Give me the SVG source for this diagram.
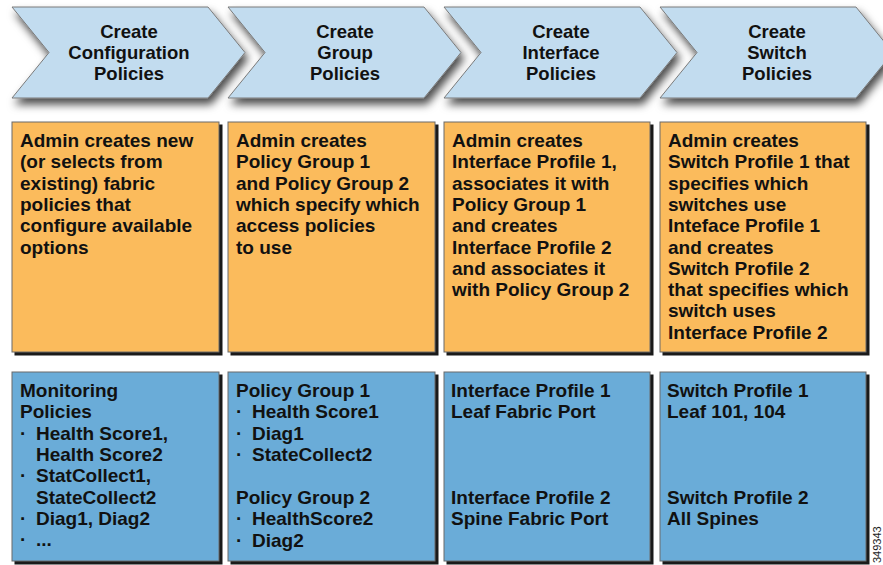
<svg xmlns="http://www.w3.org/2000/svg" width="883" height="565" viewBox="0 0 883 565">
<style>
.chev{fill:#c2dcef;stroke:#7a7a7a;stroke-width:1;filter:url(#sh)}
.hd{font-family:"Liberation Sans",Arial,sans-serif;font-weight:bold;font-size:18.5px;fill:#111;text-anchor:middle}
.tx{font-family:"Liberation Sans",Arial,sans-serif;font-weight:bold;font-size:19px;fill:#111}
.or{fill:#fbbb5c;stroke:#6a6a6a;stroke-width:1}
.bl{fill:#6aacd8;stroke:#6a6a6a;stroke-width:1}
.bs{fill:#1a1a1a}
.id{font-family:"Liberation Sans",Arial,sans-serif;font-size:11px;fill:#222}
</style>
<defs>
<filter id="sh" x="-10%" y="-20%" width="130%" height="160%">
<feDropShadow dx="3" dy="6" stdDeviation="4" flood-color="#000" flood-opacity="0.7"/>
</filter>
<path id="chevShape" d="M0,7 L196,7 L233,52.5 L196,98 L0,98 L37,52.5 Z"/>
</defs>
<rect width="883" height="565" fill="#fff"/>

<g id="step-config">
<use href="#chevShape" class="chev" x="12"/>
<text class="hd" x="129" y="38">Create</text>
<text class="hd" x="129" y="59">Configuration</text>
<text class="hd" x="129" y="80">Policies</text>
</g>
<g id="step-group">
<use href="#chevShape" class="chev" x="228"/>
<text class="hd" x="345" y="38">Create</text>
<text class="hd" x="345" y="59">Group</text>
<text class="hd" x="345" y="80">Policies</text>
</g>
<g id="step-interface">
<use href="#chevShape" class="chev" x="444"/>
<text class="hd" x="561" y="38">Create</text>
<text class="hd" x="561" y="59">Interface</text>
<text class="hd" x="561" y="80">Policies</text>
</g>
<g id="step-switch">
<use href="#chevShape" class="chev" x="660"/>
<text class="hd" x="777" y="38">Create</text>
<text class="hd" x="777" y="59">Switch</text>
<text class="hd" x="777" y="80">Policies</text>
</g>

<g id="desc-config">
<rect class="bs" x="14.5" y="124.5" width="208" height="231"/>
<rect class="or" x="12" y="122" width="207" height="230"/>
<text class="tx"><tspan x="20" y="147">Admin creates new</tspan><tspan x="20" y="168.3">(or selects from</tspan><tspan x="20" y="189.6">existing) fabric</tspan><tspan x="20" y="210.9">policies that</tspan><tspan x="20" y="232.2">configure available</tspan><tspan x="20" y="253.5">options</tspan></text>
</g>
<g id="desc-group">
<rect class="bs" x="230.5" y="124.5" width="208" height="231"/>
<rect class="or" x="228" y="122" width="207" height="230"/>
<text class="tx"><tspan x="236" y="147">Admin creates</tspan><tspan x="236" y="168.3">Policy Group 1</tspan><tspan x="236" y="189.6">and Policy Group 2</tspan><tspan x="236" y="210.9">which specify which</tspan><tspan x="236" y="232.2">access policies</tspan><tspan x="236" y="253.5">to use</tspan></text>
</g>
<g id="desc-interface">
<rect class="bs" x="446.5" y="124.5" width="207" height="231"/>
<rect class="or" x="444" y="122" width="206" height="230"/>
<text class="tx"><tspan x="452" y="147">Admin creates</tspan><tspan x="452" y="168.3">Interface Profile 1,</tspan><tspan x="452" y="189.6">associates it with</tspan><tspan x="452" y="210.9">Policy Group 1</tspan><tspan x="452" y="232.2">and creates</tspan><tspan x="452" y="253.5">Interface Profile 2</tspan><tspan x="452" y="274.8">and associates it</tspan><tspan x="452" y="296.1">with Policy Group 2</tspan></text>
</g>
<g id="desc-switch">
<rect class="bs" x="662.5" y="124.5" width="207" height="231"/>
<rect class="or" x="660" y="122" width="206" height="230"/>
<text class="tx"><tspan x="668" y="147">Admin creates</tspan><tspan x="668" y="168.3">Switch Profile 1 that</tspan><tspan x="668" y="189.6">specifies which</tspan><tspan x="668" y="210.9">switches use</tspan><tspan x="668" y="232.2">Inteface Profile 1</tspan><tspan x="668" y="253.5">and creates</tspan><tspan x="668" y="274.8">Switch Profile 2</tspan><tspan x="668" y="296.1">that specifies which</tspan><tspan x="668" y="317.4">switch uses</tspan><tspan x="668" y="338.7">Interface Profile 2</tspan></text>
</g>

<g id="detail-config">
<rect class="bs" x="14.5" y="374.5" width="208" height="190"/>
<rect class="bl" x="12" y="372" width="207" height="189"/>
<text class="tx"><tspan x="20" y="397">Monitoring</tspan><tspan x="20" y="418.3">Policies</tspan><tspan x="20" y="439.6">·</tspan><tspan x="36" y="439.6">Health Score1,</tspan><tspan x="36" y="460.9">Health Score2</tspan><tspan x="20" y="482.2">·</tspan><tspan x="36" y="482.2">StatCollect1,</tspan><tspan x="36" y="503.5">StateCollect2</tspan><tspan x="20" y="524.8">·</tspan><tspan x="36" y="524.8">Diag1, Diag2</tspan><tspan x="20" y="546.1">·</tspan><tspan x="36" y="546.1">...</tspan></text>
</g>
<g id="detail-group">
<rect class="bs" x="230.5" y="374.5" width="208" height="190"/>
<rect class="bl" x="228" y="372" width="207" height="189"/>
<text class="tx"><tspan x="236" y="397">Policy Group 1</tspan><tspan x="236" y="418.3">·</tspan><tspan x="252" y="418.3">Health Score1</tspan><tspan x="236" y="439.6">·</tspan><tspan x="252" y="439.6">Diag1</tspan><tspan x="236" y="460.9">·</tspan><tspan x="252" y="460.9">StateCollect2</tspan><tspan x="236" y="504">Policy Group 2</tspan><tspan x="236" y="525.3">·</tspan><tspan x="252" y="525.3">HealthScore2</tspan><tspan x="236" y="546.6">·</tspan><tspan x="252" y="546.6">Diag2</tspan></text>
</g>
<g id="detail-interface">
<rect class="bs" x="446.5" y="374.5" width="207" height="190"/>
<rect class="bl" x="444" y="372" width="206" height="189"/>
<text class="tx"><tspan x="451" y="397">Interface Profile 1</tspan><tspan x="451" y="418.3">Leaf Fabric Port</tspan><tspan x="451" y="504">Interface Profile 2</tspan><tspan x="451" y="525.3">Spine Fabric Port</tspan></text>
</g>
<g id="detail-switch">
<rect class="bs" x="662.5" y="374.5" width="207" height="190"/>
<rect class="bl" x="660" y="372" width="206" height="189"/>
<text class="tx"><tspan x="667" y="397">Switch Profile 1</tspan><tspan x="667" y="418.3">Leaf 101, 104</tspan><tspan x="667" y="504">Switch Profile 2</tspan><tspan x="667" y="525.3">All Spines</tspan></text>
</g>

<g id="connectors"></g>

<text class="id" transform="translate(881,563) rotate(-90)">349343</text>
</svg>
